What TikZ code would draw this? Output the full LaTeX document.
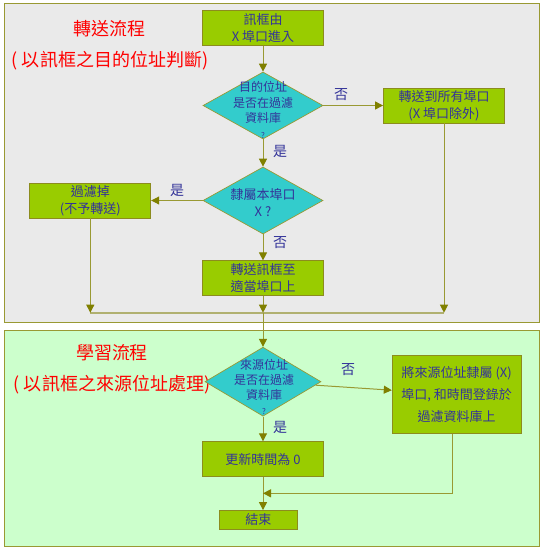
\documentclass[tikz,border=0pt]{standalone}
\usepackage{fontspec}
\setmainfont{Noto Sans CJK TC}
\usetikzlibrary{shapes.geometric,arrows.meta}
\definecolor{panelA}{HTML}{EAEAEA}
\definecolor{panelB}{HTML}{CCFFCC}
\definecolor{edgeol}{HTML}{999933}
\definecolor{tipol}{HTML}{808000}
\definecolor{boxfill}{HTML}{99CC00}
\definecolor{boxedge}{HTML}{8C8C1E}
\definecolor{diafill}{HTML}{33CCCC}
\definecolor{txtblue}{HTML}{333399}
\definecolor{mergecol}{HTML}{B0B070}
\begin{document}
\begin{tikzpicture}[x=1pt,y=-1pt,
  panel/.style={draw=edgeol, line width=1pt},
  titletext/.style={text=red, font=\fontsize{18}{22}\selectfont, inner sep=0},
  box/.style={draw=boxedge, fill=boxfill, line width=0.8pt, minimum width=121pt, minimum height=35pt, inner sep=0, align=center, text=txtblue, font=\fontsize{13}{17}\selectfont},
  dia/.style={diamond, draw=edgeol, fill=diafill, line width=0.7pt, minimum width=120pt, minimum height=67pt, inner sep=0},
  dtext/.style={align=center, text=txtblue, inner sep=0, font=\fontsize{12}{15.5}\selectfont},
  lab/.style={text=txtblue, inner sep=0, font=\fontsize{14}{16}\selectfont},
  arr/.style={draw=edgeol, line width=1pt, -{Triangle[length=8pt,width=8pt,color=tipol]}},
  merge/.style={draw=mergecol, line width=1.8pt}
]
\useasboundingbox (0,0) rectangle (543,550);
\draw[panel, fill=panelA] (4,3) rectangle (539,322);
\draw[panel, fill=panelB] (4,330) rectangle (539,546);

\node[titletext] (t1) at (110,29) {轉送流程};
\node[titletext] (t2) at (110,61) {( 以訊框之目的位址判斷)};
\node[titletext] (t3) at (112,353) {學習流程};
\node[titletext] (t4) at (112,385) {( 以訊框之來源位址處理)};

\node[box] (b1) at (263,28) {訊框由\\X 埠口進入};
\node[dia] (d1) at (263,105.5) {};
\node[dtext] (d1t) at (263,110) {目的位址\\是否在過濾\\資料庫\\{\fontsize{8}{8}\selectfont ?}};
\node[box] (b2) at (444,105.5) {轉送到所有埠口\\(X 埠口除外)};
\node[dia] (d2) at (263,200.5) {};
\node[dtext, font=\fontsize{13}{17}\selectfont] (d2t) at (263,203) {隸屬本埠口\\X ?};
\node[box] (b3) at (90.3,200.5) {過濾掉\\(不予轉送)};
\node[box] (b4) at (263,278.3) {轉送訊框至\\適當埠口上};
\coordinate (m1) at (263,312.7);
\coordinate (mL) at (90.3,312.7);
\coordinate (mR) at (444,312.7);

\node[dia, minimum width=116pt, minimum height=69pt] (d3) at (263,381.7) {};
\node[dtext, font=\fontsize{12}{15}\selectfont] (d3t) at (264,387) {來源位址\\是否在過濾\\資料庫\\{\fontsize{8}{8}\selectfont ?}};
\node[box, minimum width=129pt, minimum height=78pt, font=\fontsize{13}{22}\selectfont] (b5) at (456.7,394.5) {將來源位址隸屬 (X)\\埠口, 和時間登錄於\\過濾資料庫上};
\node[box] (b6) at (263,459.2) {更新時間為 0};
\node[box, minimum width=78pt, minimum height=19pt] (b7) at (258.3,520) {結束};
\coordinate (j5) at (452,493.3);

\node[lab] (l1) at (341,95) {否};
\node[lab] (l2) at (280,151.5) {是};
\node[lab] (l3) at (177,190) {是};
\node[lab] (l4) at (280,243) {否};
\node[lab] (l5) at (348,370) {否};
\node[lab] (l6) at (280,427) {是};

\draw[arr] (b1) -- (d1);
\draw[arr] (d1) -- (b2);
\draw[arr] (d1) -- (d2);
\draw[arr] (d2) -- (b3);
\draw[arr] (d2) -- (b4);
\draw[merge] (mL) -- (mR);
\draw[arr] (b4) -- (m1);
\draw[arr] (b3) -- (mL);
\draw[arr] (b2) -- (mR);
\draw[arr] (m1) -- (d3);
\draw[arr] (d3) -- (b5);
\draw[arr] (d3) -- (b6);
\draw[arr] (b6.south) -- (b6.south |- b7.north);
\draw[arr] (j5 |- b5.south) -- (j5) -- (b6.south |- j5);
\end{tikzpicture}
\end{document}
